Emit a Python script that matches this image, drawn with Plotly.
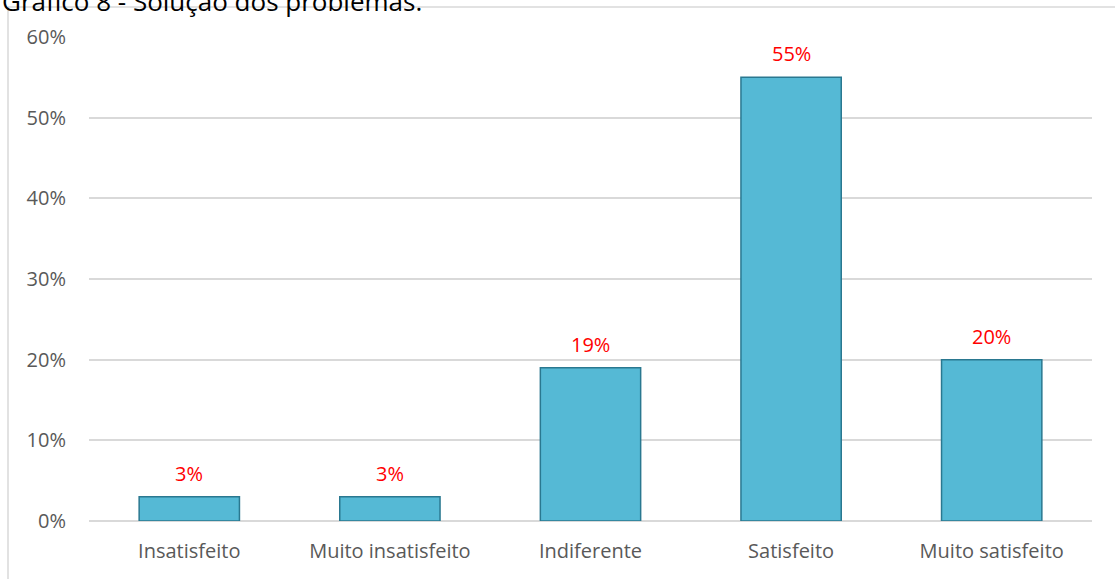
import plotly.graph_objects as go

categories = ["Insatisfeito", "Muito insatisfeito", "Indiferente", "Satisfeito", "Muito satisfeito"]
values = [0.03, 0.03, 0.19, 0.55, 0.20]
tick_vals = [0, 0.1, 0.2, 0.3, 0.4, 0.5, 0.6]
tick_text = ["0%", "10%", "20%", "30%", "40%", "50%", "60%"]
title_text = "Gráfico 8 - Solução dos problemas."

W, H = 1115, 579
ml, mr, mt, mb = 89, 23, 37, 58
pw, ph = W - ml - mr, H - mt - mb

font_family = "Open Sans"

fig = go.Figure()
fig.add_trace(go.Bar(
    x=categories,
    y=values,
    marker=dict(color="#55b9d5", line=dict(color="#2a7890", width=1.5)),
    hoverinfo="skip",
))

# value labels above each bar
for c, v in zip(categories, values):
    fig.add_annotation(x=c, y=v, text=f"{round(v*100)}%", showarrow=False,
                       yanchor="bottom", yshift=8,
                       font=dict(color="#ff0000", size=20, family=font_family))

# frame around the chart area (left and top edges)
fig.add_shape(type="line", xref="paper", yref="paper",
              x0=(8 - ml) / pw, x1=(8 - ml) / pw,
              y0=1 + (mt - 7) / ph, y1=-(mb + 5) / ph,
              line=dict(color="#d9d9d9", width=1.5))
fig.add_shape(type="line", xref="paper", yref="paper",
              x0=(8 - ml) / pw, x1=1 + (mr + 5) / pw,
              y0=1 + (mt - 7) / ph, y1=1 + (mt - 7) / ph,
              line=dict(color="#d9d9d9", width=1.5))

fig.add_annotation(text=title_text, xref="paper", yref="paper",
                   x=(0 - ml) / pw, y=1 + (mt - 7) / ph,
                   xanchor="left", yanchor="bottom", yshift=-14,
                   showarrow=False,
                   font=dict(size=26, color="#000000", family=font_family))

fig.update_layout(
    width=W, height=H,
    margin=dict(l=ml, r=mr, t=mt, b=mb),
    paper_bgcolor="white", plot_bgcolor="white",
    bargap=0.5,
    showlegend=False,
    font=dict(family=font_family, color="#595959", size=20),
    xaxis=dict(showgrid=False, showline=False, ticks="", ticklabelstandoff=16,
               tickfont=dict(size=20, color="#595959", family=font_family)),
    yaxis=dict(range=[0, 0.6], tickvals=tick_vals, ticktext=tick_text,
               showgrid=True, gridcolor="#d9d9d9", gridwidth=1.5,
               zeroline=True, zerolinecolor="#d9d9d9", zerolinewidth=1.5,
               showline=False, ticks="", ticklabelstandoff=22,
               tickfont=dict(size=20, color="#595959", family=font_family)),
)

fig.write_html("out.html")
